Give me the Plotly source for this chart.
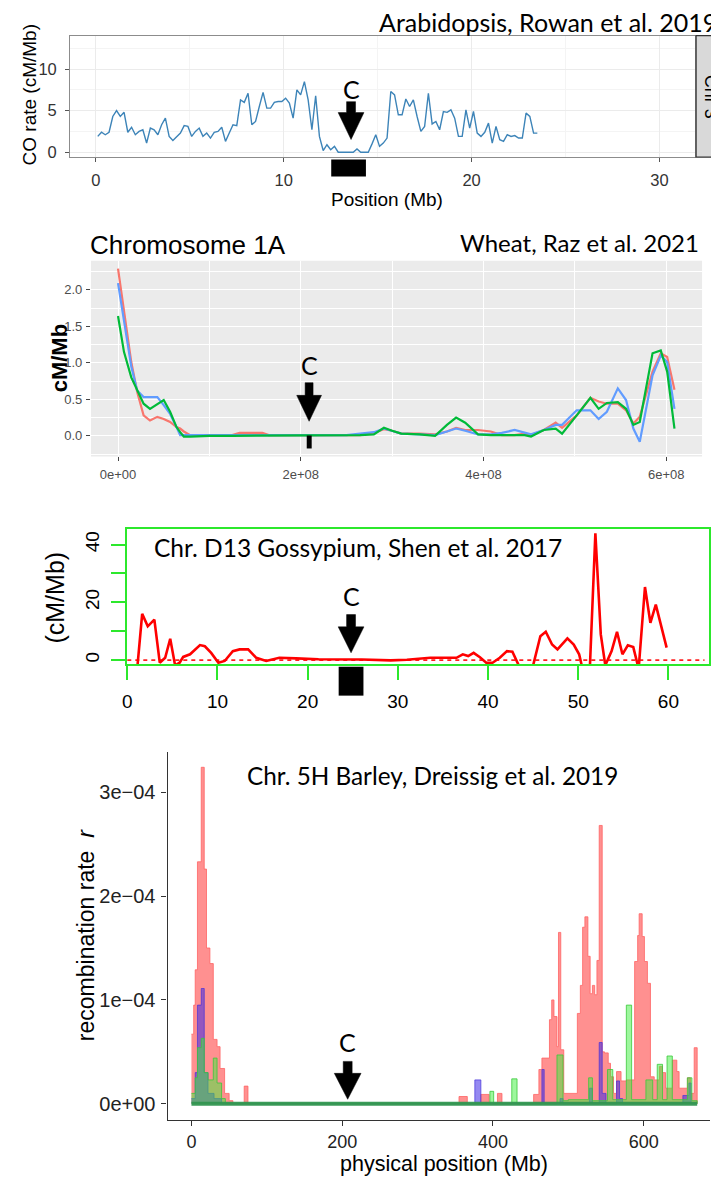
import plotly.graph_objects as go

W, H = 711, 1180

# ---------------- data ----------------
# Panel 1: Arabidopsis chr 3 CO rate (cM/Mb)
arab_pos_mb = [0.1, 0.3, 0.5, 0.7, 0.9, 1.1, 1.3, 1.5, 1.7, 1.9,
               2.1, 2.3, 2.5, 2.7, 2.9, 3.1, 3.3, 3.5, 3.7, 3.9,
               4.1, 4.3, 4.5, 4.7, 4.9, 5.1, 5.3, 5.5, 5.7, 5.9,
               6.1, 6.3, 6.5, 6.7, 6.9, 7.1, 7.3, 7.5, 7.7, 7.9,
               8.1, 8.3, 8.5, 8.7, 8.9, 9.1, 9.3, 9.5, 9.7, 9.9,
               10.1, 10.3, 10.5, 10.7, 10.9, 11.1, 11.3, 11.5, 11.7, 11.9,
               12.1, 12.3, 12.5, 12.7, 12.9, 13.1, 13.3, 13.5, 13.7, 13.9,
               14.1, 14.3, 14.5, 14.7, 14.9, 15.1, 15.3, 15.5, 15.7, 15.9,
               16.1, 16.3, 16.5, 16.7, 16.9, 17.1, 17.3, 17.5, 17.7, 17.9,
               18.1, 18.3, 18.5, 18.7, 18.9, 19.1, 19.3, 19.5, 19.7, 19.9,
               20.1, 20.3, 20.5, 20.7, 20.9, 21.1, 21.3, 21.5, 21.7, 21.9,
               22.1, 22.3, 22.5, 22.7, 22.9, 23.1, 23.3, 23.5]
arab_co_rate = [1.9, 2.4, 2.1, 2.4, 4.3, 5.0, 4.3, 4.8, 2.4, 3.0,
                2.1, 2.5, 2.7, 1.1, 2.9, 2.7, 2.1, 3.3, 4.1, 1.9,
                1.4, 1.9, 2.3, 3.2, 3.1, 1.9, 2.5, 2.9, 1.9, 2.3,
                1.7, 2.4, 2.5, 3.0, 1.3, 2.3, 3.3, 3.2, 6.3, 6.0,
                7.1, 3.3, 3.7, 5.5, 7.2, 5.3, 5.3, 6.0, 6.1, 6.1,
                6.5, 5.9, 4.1, 7.5, 6.9, 8.5, 6.3, 2.7, 6.8, 1.9,
                0.2, 0.9, 0.3, 0.7, 0.0, 0.0, 0.0, 0.0, 0.0, 0.4,
                0.0, 0.0, 0.0, 1.0, 2.1, 0.7, 1.1, 1.7, 7.3, 6.9,
                4.5, 4.5, 6.4, 5.5, 6.3, 4.3, 2.5, 3.1, 7.1, 3.4,
                3.7, 2.7, 4.9, 4.8, 5.1, 4.1, 1.9, 1.9, 5.1, 2.9,
                4.9, 2.3, 1.9, 2.4, 3.5, 1.1, 3.1, 1.5, 1.3, 2.1,
                1.9, 2.0, 1.7, 1.7, 4.7, 4.3, 2.3, 2.3]

# Panel 2: Wheat chromosome 1A (cM/Mb), position in Mb
wheat_pos_mb = [0, 6.5, 14.5, 21, 28, 35, 43, 50, 57, 64,
                68, 72, 79, 100, 125, 133, 158, 165, 200, 250,
                265, 280, 291, 300, 310, 330, 347, 360, 370, 380,
                394, 408, 420, 434, 445, 452, 466, 479, 486, 502,
                517, 526, 535, 547, 556, 564, 571, 585, 594, 601,
                609]
wheat_red = [2.29, 1.70, 1.01, 0.60, 0.28, 0.21, 0.26, 0.23, 0.19, 0.12,
             0.10, 0.06, 0.01, 0.01, 0.01, 0.04, 0.04, 0.01, 0.01, 0.01,
             0.01, 0.04, 0.09, 0.07, 0.03, 0.03, 0.02, 0.06, 0.11, 0.08,
             0.08, 0.06, 0.01, 0.01, 0.03, 0.01, 0.08, 0.18, 0.11, 0.28,
             0.52, 0.47, 0.44, 0.44, 0.35, 0.17, 0.26, 0.88, 1.13, 1.08,
             0.63]
wheat_blue = [2.09, 1.60, 0.95, 0.62, 0.53, 0.53, 0.53, 0.42, 0.30, 0.12,
              0.01, 0.01, 0.01, 0.01, 0.01, 0.01, 0.01, 0.01, 0.01, 0.01,
              0.03, 0.05, 0.10, 0.07, 0.03, 0.02, 0.01, 0.06, 0.10, 0.07,
              0.02, 0.02, 0.04, 0.08, 0.04, 0.02, 0.08, 0.15, 0.15, 0.35,
              0.35, 0.23, 0.33, 0.65, 0.49, 0.10, -0.08, 0.83, 1.10, 1.01,
              0.37]
wheat_green = [1.64, 1.15, 0.80, 0.62, 0.44, 0.37, 0.44, 0.49, 0.33, 0.12,
               0.05, -0.01, -0.01, 0.0, 0.0, 0.0, 0.0, 0.0, 0.0, 0.0,
               0.01, 0.02, 0.11, 0.07, 0.03, 0.02, 0.0, 0.15, 0.25, 0.18,
               0.02, 0.01, 0.01, 0.01, 0.01, -0.01, 0.08, 0.10, 0.03, 0.28,
               0.52, 0.37, 0.45, 0.46, 0.37, 0.15, 0.19, 1.13, 1.17, 0.88,
               0.10]

# Panel 3: Gossypium chr D13 (cM/Mb), position in Mb
cotton_pos_mb = [1.1, 1.65, 2.27, 3.0, 3.6, 4.2, 4.76, 5.3, 5.8, 6.2,
                 6.96, 8.06, 8.6, 9.3, 10.1, 10.8, 11.7, 12.45, 13.4, 14.3,
                 15.4, 16.85, 18.7, 21.2, 26.0, 29.2, 31.0, 33.6, 36.5, 37.2,
                 37.8, 38.4, 39.1, 39.8, 40.5, 41.3, 42.1, 42.7, 43.4, 44.2,
                 45.0, 45.8, 46.4, 47.1, 47.7, 48.8, 49.5, 50.1, 50.7, 51.3,
                 51.9, 52.5, 53.0, 53.7, 54.3, 54.9, 55.5, 56.1, 56.7, 57.4,
                 58.0, 58.6, 59.8]
cotton_rate = [-3.0, 16.0, 11.7, 14.0, -0.9, 0.8, 7.4, -1.8, -0.9, 1.1,
               2.0, 5.2, 4.8, 2.5, -0.9, -0.3, 3.1, 3.7, 3.7, 0.8,
               -0.3, 0.8, 0.6, 0.3, 0.2, -0.1, 0.1, 0.8, 0.8, 2.0,
               1.4, 2.5, 1.0, -0.9, -0.9, 0.8, 3.1, 2.9, -1.8, -6.0,
               -1.8, 8.3, 9.8, 5.4, 3.7, 7.5, 5.4, 2.0, -6.0, -1.8,
               43.9, 8.9, -1.8, 3.1, 9.8, 2.0, 5.1, 4.5, -3.0, 25.3,
               12.9, 19.2, 4.3]
cotton_ref_line_x = [0, 64]
cotton_ref_line_y = [0, 0]

# Panel 4: Barley chr 5H recombination rate r (units of 1e-4), Mb
barley_red_pos = [0, 3, 5, 8, 13, 17, 20, 24.5, 29, 34, 38, 44, 50, 55, 70, 75,
                  355, 366, 384, 395, 406, 412, 454, 461, 465, 475, 478, 481, 485,
                  487, 490, 494, 512, 516, 519, 522, 526, 529, 532, 535, 538, 541,
                  545, 548, 553, 556, 560, 564, 570, 577, 588, 592, 594, 598, 601,
                  605, 609, 614, 621, 625, 629, 638, 644, 647, 658, 662, 667, 671]
barley_red_rate = [0.67, 0.95, 1.29, 2.33, 3.24, 2.26, 1.50, 1.35, 0.62, 0.55, 0.34, 0.10, 0.03, 0.0, 0.17, 0.0,
                   0.07, 0.0, 0.09, 0.0, 0.10, 0.0, 0.09, 0.33, 0.44, 0.81, 1.00, 0.84, 0.55,
                   1.65, 0.52, 0.10, 0.87, 1.14, 1.70, 1.80, 1.42, 1.06, 1.14, 1.05, 1.38, 2.68,
                   0.50, 0.49, 0.39, 0.26, 0.10, 0.31, 0.22, 0.23, 1.37, 1.62, 1.83, 1.61, 1.37,
                   1.16, 0.26, 0.23, 0.36, 0.30, 0.15, 0.42, 0.31, 0.15, 0.25, 0.10, 0.54, 0.0]
barley_blue_pos = [0, 5, 8, 13, 17, 22, 30, 40, 376, 384, 465, 468, 489, 493,
                   528, 532, 541, 545, 550, 564, 568, 572, 652, 660, 663, 671]
barley_blue_rate = [0.05, 0.30, 0.95, 1.11, 0.30, 0.10, 0.05, 0.0, 0.23, 0.0, 0.33, 0.0, 0.05, 0.0,
                    0.15, 0.0, 0.59, 0.10, 0.0, 0.22, 0.05, 0.0, 0.08, 0.20, 0.0, 0.0]
barley_green_pos = [0, 5, 8, 13, 17, 22, 29, 34, 40, 45, 396, 401, 425, 432, 485, 493, 500,
                    527, 532, 552, 559, 577, 584, 603, 612, 618, 625, 631, 638, 658, 664, 671]
barley_green_rate = [0.10, 0.25, 0.54, 0.63, 0.30, 0.23, 0.44, 0.20, 0.05, 0.0, 0.12, 0.0, 0.24, 0.0,
                     0.47, 0.03, 0.04, 0.25, 0.03, 0.33, 0.04, 0.95, 0.04, 0.23, 0.04, 0.38, 0.04,
                     0.46, 0.04, 0.25, 0.03, 0.0]

# tick labels
arab_xticks = [0, 10, 20, 30]
arab_yticks = [0, 5, 10]
wheat_xticks = [0, 200, 400, 600]
wheat_xticktext = ["0e+00", "2e+08", "4e+08", "6e+08"]
wheat_yticks = [0, 0.5, 1.0, 1.5, 2.0]
wheat_yticktext = ["0.0", "0.5", "1.0", "1.5", "2.0"]
cotton_xticks = [0, 10, 20, 30, 40, 50, 60]
cotton_yticks = [0, 10, 20, 30, 40]
cotton_yticktext = ["0", "", "20", "", "40"]
barley_xticks = [0, 200, 400, 600]
barley_yticks = [0, 1, 2, 3]
barley_yticktext = ["0e+00", "1e\u221204", "2e\u221204", "3e\u221204"]

# ---------------- helpers ----------------
def xd(a, b):
    return [a / W, b / W]

def yd(top, bottom):
    return [1 - bottom / H, 1 - top / H]

def px(x):
    return x / W

def py(y):
    return 1 - y / H

ARIAL = "Liberation Sans, Arial, sans-serif"
NARROW = "Liberation Sans Narrow, Liberation Sans, Arial, sans-serif"
CAL = "Lato, Open Sans, sans-serif"

def ann(text, x, y, size, family=CAL, xanchor="center", yanchor="middle",
        angle=0, color="black"):
    return dict(text=text, x=px(x), y=py(y), xref="paper", yref="paper",
                showarrow=False, xanchor=xanchor, yanchor=yanchor, borderpad=0,
                textangle=angle, font=dict(size=size, family=family, color=color))

def down_arrow(cx, top, head, tip, sh, hw):
    pts = [(cx - sh, top), (cx + sh, top), (cx + sh, head), (cx + hw, head),
           (cx, tip), (cx - hw, head), (cx - sh, head)]
    path = "M " + " L ".join(f"{px(a):.5f},{py(b):.5f}" for a, b in pts) + " Z"
    return dict(type="path", path=path, xref="paper", yref="paper",
                fillcolor="black", line=dict(color="black", width=0.5))

def rect(x0, y0, x1, y1, fill="black", line_color="black", lw=0, layer="above"):
    return dict(type="rect", xref="paper", yref="paper",
                x0=px(x0), x1=px(x1), y0=py(y1), y1=py(y0),
                fillcolor=fill, line=dict(color=line_color, width=lw), layer=layer)

fig = go.Figure()

# ---------------- traces ----------------
fig.add_trace(go.Scatter(x=arab_pos_mb, y=arab_co_rate, mode="lines",
                         line=dict(color="#3D84B8", width=1.4),
                         xaxis="x", yaxis="y", hoverinfo="skip"))

for ys, col in [(wheat_red, "#F8766D"), (wheat_blue, "#619CFF"), (wheat_green, "#00BA38")]:
    fig.add_trace(go.Scatter(x=wheat_pos_mb, y=ys, mode="lines",
                             line=dict(color=col, width=2.2),
                             xaxis="x2", yaxis="y2", hoverinfo="skip"))

fig.add_trace(go.Scatter(x=cotton_ref_line_x, y=cotton_ref_line_y, mode="lines",
                         line=dict(color="#FF2020", width=1.6, dash="4px,4px"),
                         xaxis="x3", yaxis="y3", hoverinfo="skip"))
fig.add_trace(go.Scatter(x=cotton_pos_mb, y=cotton_rate, mode="lines",
                         line=dict(color="#FF0000", width=2.6),
                         xaxis="x3", yaxis="y3", hoverinfo="skip"))

for xs, ys, fc, lc, lw in [
    (barley_red_pos, barley_red_rate, "rgba(255,70,70,0.6)", "rgba(255,100,100,0.8)", 1.0),
    (barley_blue_pos, barley_blue_rate, "rgba(60,40,230,0.55)", "rgba(70,50,220,0.7)", 1.0),
    (barley_green_pos, barley_green_rate, "rgba(60,240,60,0.5)", "rgba(60,200,60,0.8)", 1.0),
]:
    fig.add_trace(go.Scatter(x=xs, y=ys, mode="lines", line_shape="hv",
                             fill="tozeroy", fillcolor=fc,
                             line=dict(color=lc, width=lw),
                             xaxis="x4", yaxis="y4", hoverinfo="skip"))
# zero baseline of the green (third) series, spanning the chromosome
fig.add_trace(go.Scatter(x=[barley_green_pos[0], barley_green_pos[-1]], y=[0, 0],
                         mode="lines", line=dict(color="rgba(50,150,80,0.95)", width=4),
                         xaxis="x4", yaxis="y4", hoverinfo="skip"))

# ---------------- axes ----------------
common = dict(zeroline=False, fixedrange=True)

fig.update_layout(
    xaxis=dict(domain=xd(65.7, 696), anchor="y", range=[-1.37, 31.9],
               tickmode="array", tickvals=arab_xticks,
               ticks="outside", ticklen=4, tickcolor="#555", tickwidth=1,
               showline=True, mirror=True, linecolor="#8C8C8C", linewidth=1.2,
               showgrid=True, gridcolor="#EBEBEB", gridwidth=1,
               minor=dict(tickmode="linear", tick0=0, dtick=5, showgrid=True,
                          gridcolor="#F4F4F4", gridwidth=0.8, ticks=""),
               tickfont=dict(size=16.5, family=NARROW, color="#333"),
               ticklabelstandoff=4, **common),
    yaxis=dict(domain=yd(35.7, 157.7), anchor="x", range=[-0.6, 14.04],
               tickmode="array", tickvals=arab_yticks,
               ticks="outside", ticklen=4, tickcolor="#555", tickwidth=1,
               showline=True, mirror=True, linecolor="#8C8C8C", linewidth=1.2,
               showgrid=True, gridcolor="#EBEBEB", gridwidth=1,
               minor=dict(tickmode="linear", tick0=0, dtick=2.5, showgrid=True,
                          gridcolor="#F4F4F4", gridwidth=0.8, ticks=""),
               tickfont=dict(size=16.5, family=NARROW, color="#333"),
               ticklabelstandoff=5, **common),
    xaxis2=dict(domain=xd(86.7, 703), anchor="y2", range=[-29.6, 639.2],
                tickmode="array", tickvals=wheat_xticks, ticktext=wheat_xticktext,
                ticks="outside", ticklen=4, tickcolor="#444", tickwidth=1,
                showline=False, showgrid=True, gridcolor="white", gridwidth=1.3,
                minor=dict(tickmode="linear", tick0=0, dtick=100, showgrid=True,
                           gridcolor="white", gridwidth=0.6, ticks=""),
                tickfont=dict(size=13, family=ARIAL, color="#4D4D4D"),
                ticklabelstandoff=2, **common),
    yaxis2=dict(domain=yd(261.7, 458), anchor="x2", range=[-0.282, 2.396],
                tickmode="array", tickvals=wheat_yticks, ticktext=wheat_yticktext,
                ticks="outside", ticklen=4, tickcolor="#444", tickwidth=1,
                showline=False, showgrid=True, gridcolor="white", gridwidth=1.3,
                minor=dict(tickmode="linear", tick0=-0.25, dtick=0.25, showgrid=True,
                           gridcolor="white", gridwidth=0.6, ticks=""),
                tickfont=dict(size=13, family=ARIAL, color="#4D4D4D"),
                ticklabelstandoff=1, **common),
    xaxis3=dict(domain=xd(122.7, 710), anchor="y3", range=[-0.07, 64.5],
                tickmode="array", tickvals=cotton_xticks,
                ticks="outside", ticklen=14, tickcolor="#2CE82C", tickwidth=2,
                showline=True, mirror=True, linecolor="#2CE82C", linewidth=2,
                showgrid=False,
                tickfont=dict(size=19, family=ARIAL, color="black"),
                ticklabelstandoff=5, **common),
    yaxis3=dict(domain=yd(530.7, 666.7), anchor="x3", range=[-1.5, 45.4],
                tickmode="array", tickvals=cotton_yticks, ticktext=cotton_yticktext,
                ticks="outside", ticklen=14, tickcolor="#2CE82C", tickwidth=2,
                showline=True, mirror=True, linecolor="#2CE82C", linewidth=2,
                showgrid=False, tickangle=-90,
                tickfont=dict(size=19, family=ARIAL, color="black"),
                ticklabelstandoff=4, **common),
    xaxis4=dict(domain=xd(164, 711), anchor="y4", range=[-31.6, 688],
                tickmode="array", tickvals=barley_xticks,
                ticks="outside", ticklen=5, tickcolor="#333", tickwidth=1.2,
                showline=True, linecolor="#333", linewidth=1.3, showgrid=False,
                tickfont=dict(size=18, family=NARROW, color="#222"),
                ticklabelstandoff=0, **common),
    yaxis4=dict(domain=yd(755, 1124), anchor="x4", range=[-0.158, 3.383],
                tickmode="array", tickvals=barley_yticks, ticktext=barley_yticktext,
                ticks="outside", ticklen=5, tickcolor="#333", tickwidth=1.2,
                showline=True, linecolor="#333", linewidth=1.3, showgrid=False,
                tickfont=dict(size=20, family=NARROW, color="#222"),
                ticklabelstandoff=2, **common),
)

# ---------------- shapes ----------------
shapes = [
    # wheat grey panel background
    dict(type="rect", xref="x2 domain", yref="y2 domain", x0=0, x1=1, y0=0, y1=1,
         fillcolor="#EBEBEB", line=dict(width=0), layer="below"),
    # Arabidopsis facet strip
    rect(697, 35.7, 740, 157.7, fill="#D9D9D9", line_color="#333", lw=1.2),
    # centromere arrows
    down_arrow(349, 102, 113, 140, 4.5, 13),
    down_arrow(306.7, 384, 396.7, 422.7, 4, 12.5),
    down_arrow(349, 616.7, 629, 655, 4.5, 13),
    down_arrow(345.6, 1065, 1077, 1103, 4.5, 13.5),
    # centromere blocks
    rect(329, 160, 364, 177),
    rect(304.3, 437, 309.3, 450),
    rect(336.5, 669, 361.5, 698),
]
fig.update_layout(shapes=shapes)

# ---------------- text ----------------
annotations = [
    ann("Arabidopsis, Rowan et al. 2019", 376, 22, 25, xanchor="left"),
    ann("C", 349, 89, 25),
    ann("CO rate (cM/Mb)", 25, 95, 19, family=NARROW, angle=-90),
    ann("Position (Mb)", 385, 200, 19, family=NARROW),
    ann("Chr 3", 712, 97, 18, family=NARROW, angle=90),

    ann("Chromosome 1A", 85, 246, 26, family=ARIAL, xanchor="left"),
    ann("Wheat, Raz et al. 2021", 458, 243, 24, xanchor="left"),
    ann("<b>cM/Mb</b>", 55, 360, 22, family=ARIAL, angle=-90),
    ann("C", 306.7, 366, 25),

    ann("Chr. D13 Gossypium, Shen et al. 2017", 149, 549, 24.5, xanchor="left"),
    ann("(cM/Mb)", 50, 600, 25, family=ARIAL, angle=-90),
    ann("C", 349, 598, 25),

    ann("Chr. 5H Barley, Dreissig et al. 2019", 243, 778, 24.3, xanchor="left"),
    ann("recombination rate  <i>r</i>", 82, 938, 23, family=NARROW, angle=-90),
    ann("physical position (Mb)", 443, 1168, 21.5, family=NARROW),
    ann("C", 345.6, 1046, 25),
]
fig.update_layout(annotations=annotations)

fig.update_layout(
    width=W, height=H, autosize=False,
    margin=dict(l=0, r=0, t=0, b=0),
    paper_bgcolor="white", plot_bgcolor="white",
    showlegend=False,
)

fig.write_html("out.html", config={"displayModeBar": False},
               post_script="document.body.style.margin='0px';document.body.style.padding='0px';")
